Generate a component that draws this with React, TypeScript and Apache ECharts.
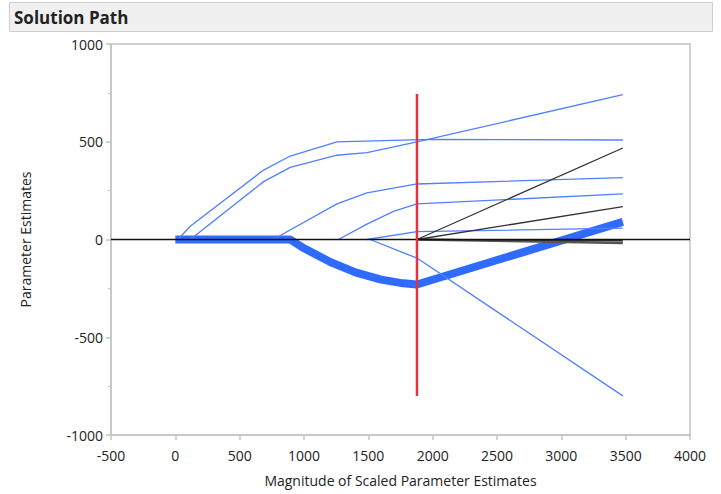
import React, { useEffect, useRef } from "react";
import * as echarts from "echarts";

// Solution path data: [magnitude, estimate]
const pathUpperFlat: [number, number][] = [[20, 0], [116, 68], [686, 355], [893, 427], [1256, 499], [1981, 512], [3478, 509]];
const pathUpperRise: [number, number][] = [[116, 0], [686, 296], [893, 369], [1256, 431], [1489, 444], [1878, 499], [3478, 741]];
const pathMid1: [number, number][] = [[760, 0], [1256, 182], [1489, 239], [1878, 284], [3478, 316]];
const pathMid2: [number, number][] = [[1268, 0], [1489, 79], [1700, 145], [1878, 182], [3478, 233]];
const pathLow: [number, number][] = [[1489, 0], [1878, 40], [3478, 58]];
const pathDown: [number, number][] = [[1515, 0], [1750, -62], [1878, -95], [3478, -800]];
const pathThick: [number, number][] = [[0, 0], [893, 0], [1000, -45], [1204, -115], [1400, -168], [1489, -185], [1600, -205], [1750, -222], [1878, -230], [3478, 90]];
const pathBlack1: [number, number][] = [[1878, 0], [3478, 468]];
const pathBlack2: [number, number][] = [[1878, 0], [3478, 168]];
const pathBlack3: [number, number][] = [[1878, 0], [3478, -18]];
const pathBlack4: [number, number][] = [[1878, 0], [3478, -6]];
const zeroLine: [number, number][] = [[-500, 0], [4000, 0]];
const selectedStep: [number, number][] = [[1878, -800], [1878, 744]];

const xTicks = { min: -500, max: 4000, interval: 500 };
const yTicks = { min: -1000, max: 1000, interval: 500 };

const FONT = "'Open Sans', 'Noto Sans', sans-serif";

function lineSeries(data: [number, number][], color: string, width: number, z = 2) {
  return {
    type: "line",
    data,
    showSymbol: false,
    symbol: "none",
    silent: true,
    z,
    lineStyle: { color, width, cap: "butt", join: "round" },
  };
}

export default function App() {
  const ref = useRef<HTMLDivElement>(null);
  useEffect(() => {
    if (!ref.current) return;
    const chart = echarts.init(ref.current, undefined, { renderer: "svg" });
    const blue = "#4f80ff";
    chart.setOption({
      animation: false,
      backgroundColor: "#ffffff",
      graphic: [
        {
          type: "rect",
          shape: { x: 9.5, y: 2.5, width: 703, height: 29 },
          style: { fill: "#f0f0f0", stroke: "#cfcfcf", lineWidth: 1 },
          z: 0,
        },
        {
          type: "text",
          x: 14,
          y: 17,
          style: {
            text: "Solution Path",
            fontFamily: FONT,
            fontWeight: "bold",
            fontSize: 17,
            fill: "#222",
            verticalAlign: "middle",
          },
          z: 1,
        },
      ],
      grid: {
        left: 111,
        top: 44,
        width: 579,
        height: 391,
        show: true,
        borderColor: "#c4c4c4",
        borderWidth: 1.5,
        backgroundColor: "#ffffff",
      },
      xAxis: {
        type: "value",
        min: xTicks.min,
        max: xTicks.max,
        interval: xTicks.interval,
        name: "Magnitude of Scaled Parameter Estimates",
        nameLocation: "middle",
        nameGap: 38,
        nameTextStyle: { fontFamily: FONT, fontSize: 14, color: "#222" },
        axisLine: { show: true, onZero: false, lineStyle: { color: "#c4c4c4", width: 1.5 } },
        axisTick: { show: true, length: 5, lineStyle: { color: "#c4c4c4", width: 1.5 } },
        axisLabel: { fontFamily: FONT, fontSize: 14, color: "#222", margin: 13, formatter: (v: number) => String(v) },
        splitLine: { show: false },
      },
      yAxis: {
        type: "value",
        min: yTicks.min,
        max: yTicks.max,
        interval: yTicks.interval,
        name: "Parameter Estimates",
        nameLocation: "middle",
        nameGap: 79,
        nameTextStyle: { fontFamily: FONT, fontSize: 14, color: "#222" },
        axisLine: { show: true, onZero: false, lineStyle: { color: "#c4c4c4", width: 1.5 } },
        axisTick: { show: true, length: 5, lineStyle: { color: "#c4c4c4", width: 1.5 } },
        minorTick: { show: true, splitNumber: 2, length: 3, lineStyle: { color: "#c4c4c4", width: 1.2 } },
        axisLabel: { fontFamily: FONT, fontSize: 14, color: "#222", margin: 8, formatter: (v: number) => String(v) },
        splitLine: { show: false },
        minorSplitLine: { show: false },
      },
      series: [
        lineSeries(pathThick, "#2f6bff", 8, 2),
        lineSeries(pathUpperFlat, blue, 1.3, 3),
        lineSeries(pathUpperRise, blue, 1.3, 3),
        lineSeries(pathMid1, blue, 1.3, 3),
        lineSeries(pathMid2, blue, 1.3, 3),
        lineSeries(pathLow, blue, 1.3, 3),
        lineSeries(pathDown, blue, 1.3, 3),
        lineSeries(pathBlack3, "#555555", 2.5, 3),
        lineSeries(pathBlack4, "#333333", 1.5, 3),
        lineSeries(pathBlack1, "#333333", 1.3, 3),
        lineSeries(pathBlack2, "#333333", 1.3, 3),
        lineSeries(zeroLine, "#111111", 1.5, 4),
        lineSeries(selectedStep, "#e8303f", 2.5, 5),
      ],
    });
    return () => chart.dispose();
  }, []);
  return (
    <div
      ref={ref}
      style={{ position: "fixed", left: 0, top: 0, width: 721, height: 494 }}
    />
  );
}
